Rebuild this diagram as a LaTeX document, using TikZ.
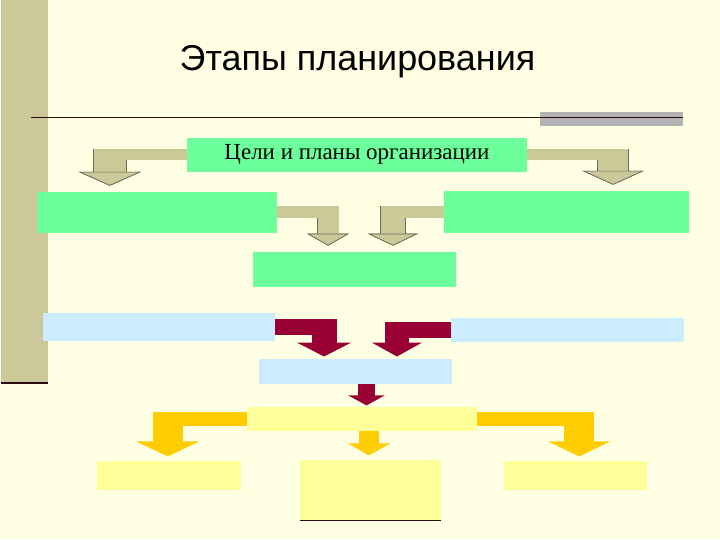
\documentclass[tikz,border=0pt]{standalone}
\usepackage{fontspec}
\setmainfont{Liberation Serif}
\newfontfamily\headfont{Liberation Sans}
\usetikzlibrary{arrows.meta,calc}
\definecolor{paper}{HTML}{FFFFE3}
\definecolor{sidebar}{HTML}{CCC89A}
\definecolor{barG}{HTML}{B3B3B3}
\definecolor{rule}{HTML}{2B0A14}
\definecolor{mint}{HTML}{6CFF9C}
\definecolor{sky}{HTML}{CCECFF}
\definecolor{lemon}{HTML}{FFFF99}
\definecolor{khaki}{HTML}{CCC999}
\definecolor{kedge}{HTML}{6B6B5A}
\definecolor{wine}{HTML}{990033}
\definecolor{gold}{HTML}{FFCC00}
\tikzset{
  box/.style={inner sep=0pt, outer sep=0pt},
  greenbox/.style={box, fill=mint},
  bluebox/.style={box, fill=sky},
  yellowbox/.style={box, fill=lemon},
  band/.style 2 args={draw=#1, line width=#2},
  kshaft/.style n args={3}{draw=khaki, line width=#1, shorten >=6pt,
      -{Triangle[width=#2, length=#3, color=kedge, fill=khaki, line width=0.7pt]},
      preaction={draw=kedge, line width=#1+1.4pt}},
  wshaft/.style n args={3}{draw=wine, line width=#1, shorten >=2pt,
      -{Triangle[width=#2, length=#3]}},
  gshaft/.style n args={3}{draw=gold, line width=#1, shorten >=5pt,
      -{Triangle[width=#2, length=#3]}},
}

\begin{document}
\begin{tikzpicture}[x=1pt,y=-1pt]
  % slide background
  \fill[paper] (0,0) rectangle (720,540);
  \fill[sidebar] (0,0) rectangle (47,384);
  \draw[rule, line width=2pt] (0,384) -- (47,384);
  \fill[barG] (540,112) rectangle (683,126);
  \draw[rule, line width=1pt] (30,117.5) -- (683,117.5);
  \node[anchor=base, font=\headfont\fontsize{36}{42}\selectfont] (title)
    at (357,71) {Этапы планирования};

  % boxes, top to bottom
  \node[greenbox, minimum width=341pt, minimum height=34pt,
        font=\fontsize{23}{26}\selectfont] (goals) at (356.5,155)
    {Цели и планы организации};
  \node[greenbox, minimum width=240pt, minimum height=41pt] (inner) at (156,212.5) {};
  \node[greenbox, minimum width=245pt, minimum height=42pt] (outer) at (566.5,212) {};
  \node[greenbox, minimum width=204pt, minimum height=35pt] (strat) at (354,269.5) {};
  \node[bluebox, minimum width=232pt, minimum height=28pt] (needL) at (158,327) {};
  \node[bluebox, minimum width=233pt, minimum height=24pt] (needR) at (567.5,330) {};
  \node[bluebox, minimum width=194pt, minimum height=26pt] (plan) at (355,372) {};
  \node[yellowbox, minimum width=231pt, minimum height=24pt] (split) at (361.5,420) {};
  \node[yellowbox, minimum width=144pt, minimum height=29pt] (outL) at (168,476.5) {};
  \node[yellowbox, minimum width=142pt, minimum height=60pt] (outC) at (370,491) {};
  \node[yellowbox, minimum width=143pt, minimum height=29pt] (outR) at (575.5,476.5) {};
  \draw[rule, line width=1pt] (outC.south west) -- (outC.south east);

  % khaki arrows: goals to the upper pair, upper pair to strategy
  \coordinate (kA) at (109,149.5);
  \coordinate (kB) at (613,149.5);
  \coordinate (kC) at (327.5,206.5);
  \coordinate (kD) at (392.5,206);
  \draw[kshaft={32pt}{63pt}{14pt}] (kA) -- (kA |- inner.north);
  \draw[band={khaki}{11pt}] (goals.west) -- (goals.west -| kA);
  \draw[kshaft={30pt}{62pt}{14pt}] (kB) -- (kB |- outer.north);
  \draw[band={khaki}{11pt}] (goals.east) -- (goals.east -| kB);
  \draw[kshaft={21pt}{42pt}{12pt}] (kC) -- (kC |- strat.north);
  \draw[band={khaki}{12pt}] (inner.east) -- (inner.east -| kC);
  \draw[kshaft={24pt}{50pt}{12pt}] (kD) -- (kD |- strat.north);
  \draw[band={khaki}{12pt}] (outer.west) -- (outer.west -| kD);

  % wine arrows into the plan box
  \coordinate (wA) at (323.5,319);
  \coordinate (wB) at (396.5,322);
  \coordinate (wC) at (366,385);
  \draw[wshaft={25pt}{54pt}{14pt}] (wA) -- (wA |- plan.north);
  \draw[band={wine}{16pt}] (needL.east) -- (needL.east -| wA);
  \draw[wshaft={24pt}{50pt}{14pt}] (wB) -- (wB |- plan.north);
  \draw[band={wine}{16pt}] (needR.west) -- (needR.west -| wB);
  \draw[wshaft={18pt}{36pt}{10pt}] (wC |- plan.south) -- (wC |- split.north);

  % gold arrows to the bottom row
  \coordinate (gA) at (167,413);
  \coordinate (gB) at (579,413);
  \coordinate (gC) at (368.5,432);
  \draw[gshaft={30pt}{63pt}{15pt}] (gA) -- (gA |- outL.north);
  \draw[band={gold}{14pt}] (split.west) -- (split.west -| gA);
  \draw[gshaft={30pt}{62pt}{15pt}] (gB) -- (gB |- outR.north);
  \draw[band={gold}{14pt}] (split.east) -- (split.east -| gB);
  \draw[gshaft={21pt}{42pt}{12pt}] (gC |- split.south) -- (gC |- outC.north);
\end{tikzpicture}
\end{document}
